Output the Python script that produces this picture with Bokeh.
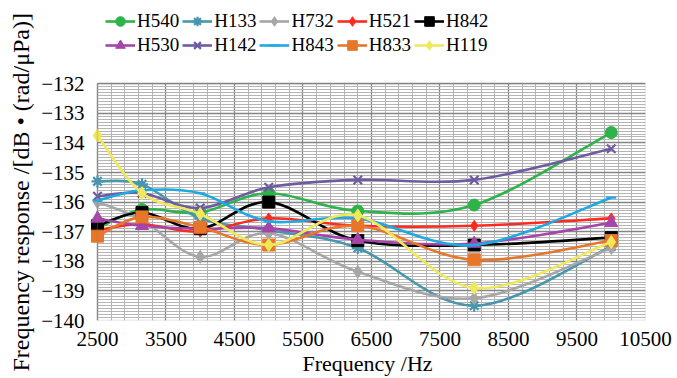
import numpy as np
from bokeh.plotting import figure
from bokeh.models import FixedTicker, Legend, LegendItem, Range1d, BoxAnnotation, Title
from bokeh.embed import file_html
from bokeh.resources import INLINE

# ---- data ----
freq = [2500, 3150, 4000, 5000, 6300, 8000, 10000]
H540 = [-136.90, -136.25, -136.35, -135.70, -136.30, -136.10, -133.65]
H133 = [-135.30, -135.40, -136.55, -136.95, -137.55, -139.50, -137.50]
H732 = [-136.00, -136.60, -137.85, -137.05, -138.35, -139.25, -137.55]
H521 = [-136.95, -136.75, -137.00, -136.55, -136.80, -136.80, -136.55]
H842 = [-136.80, -136.35, -136.90, -136.00, -137.30, -137.45, -137.20]
H530 = [-136.55, -136.80, -136.90, -136.88, -137.27, -137.40, -136.70]
H142 = [-135.80, -135.70, -136.20, -135.50, -135.25, -135.25, -134.20]
H843 = [-135.95, -135.60, -135.70, -136.65, -136.55, -137.45, -135.85]
H833 = [-137.15, -136.50, -136.85, -137.45, -136.80, -137.95, -137.30]
H119 = [-133.75, -135.70, -136.40, -137.45, -136.45, -138.90, -137.35]

names = ["H540", "H133", "H732", "H521", "H842", "H530", "H142", "H843", "H833", "H119"]
values = [H540, H133, H732, H521, H842, H530, H142, H843, H833, H119]
colors = ["#2db34a", "#4896ad", "#a6a6a6", "#ff2a1f", "#000000",
          "#a545a8", "#6f5b9f", "#1ea9e1", "#e8762a", "#efe85a"]
markers = ["circle", "asterisk", "diamond", "diamond", "square",
           "triangle", "x", "dash", "square", "diamond"]
msizes = [12, 12, 13, 11, 12, 13, 12, 10, 12, 13]

x_ticks = list(range(2500, 10501, 1000))
x_minor = list(range(2500, 10501, 200))
y_ticks = list(range(-140, -131))
y_minor = [round(-140 + 0.1 * i, 1) for i in range(81)]

FONT = "Liberation Serif"

# The frame is a little larger than the -140..-132 / 2500..10500 data box,
# so that the legend (above) and the edge markers (left) are not clipped.
W, H = 677, 378
BOTTOM = 55
LEFT = 87
frame_h = H - BOTTOM
box_top_px = 84
box_left_px = 95
box_right_px = 645
y_end = -132 + box_top_px * 8.0 / (frame_h - box_top_px)
x_start = 2500 - (box_left_px - LEFT) * 8000.0 / (box_right_px - box_left_px)

p = figure(width=W, height=H, output_backend="svg", toolbar_location=None,
           x_range=Range1d(x_start, 10500), y_range=Range1d(-140, y_end),
           min_border_left=LEFT, min_border_right=W - box_right_px,
           min_border_top=0, min_border_bottom=BOTTOM)
p.background_fill_color = "white"
p.border_fill_color = "white"
p.outline_line_color = None

p.xaxis.ticker = FixedTicker(ticks=x_ticks, minor_ticks=x_minor)
p.yaxis.ticker = FixedTicker(ticks=y_ticks, minor_ticks=y_minor)
p.xaxis.bounds = (2500, 10500)
p.yaxis.bounds = (-140, -132)
p.yaxis.major_label_overrides = {v: "\u2212" + str(-v) for v in y_ticks}
for ax in (p.xaxis, p.yaxis):
    ax.axis_line_color = None
    ax.major_tick_line_color = None
    ax.minor_tick_line_color = None
    ax.major_label_text_font = FONT
    ax.major_label_text_font_size = "21px"
    ax.major_label_text_color = "black"
    ax.axis_label_text_font = FONT
    ax.axis_label_text_font_size = "22px"
    ax.axis_label_text_font_style = "normal"
    ax.axis_label_text_color = "black"
p.xaxis.major_label_standoff = 5
p.xaxis.axis_label_standoff = 2
p.yaxis.major_label_standoff = -1
p.xaxis.axis_label = "Frequency /Hz"

p.add_layout(Title(text="Frequency response /[dB \u2022 (rad/\u03bcPa)]",
                   align="left", offset=-51, standoff=10,
                   text_font=FONT, text_font_size="24px",
                   text_font_style="normal", text_color="black"), "left")

for g in (p.xgrid, p.ygrid):
    g.grid_line_color = "#858585"
    g.grid_line_width = 1.3
    g.minor_grid_line_color = "#b5b5b5"
    g.minor_grid_line_width = 1
p.xgrid.bounds = (2500, 10500)
p.xgrid.cross_bounds = (-140, -132)
p.ygrid.bounds = (-140, -132)
p.ygrid.cross_bounds = (2500, 10500)

p.add_layout(BoxAnnotation(left=2500, right=10500, bottom=-140, top=-132,
                           fill_color=None, line_color="#858585",
                           line_width=1.5))

xs = np.array(freq, dtype=float)
items = []
for name, vals, col, mk, ms in zip(names, values, colors, markers, msizes):
    ys = np.array(vals, dtype=float)
    px = np.concatenate([[xs[0]], xs, [xs[-1]]])
    py = np.concatenate([[ys[0]], ys, [ys[-1]]])
    n = len(xs)
    x0 = px[1:n]; y0 = py[1:n]
    x1 = px[2:n + 1]; y1 = py[2:n + 1]
    cx0 = px[1:n] + (px[2:n + 1] - px[0:n - 1]) / 6.0
    cy0 = py[1:n] + (py[2:n + 1] - py[0:n - 1]) / 6.0
    cx1 = px[2:n + 1] - (px[3:n + 2] - px[1:n]) / 6.0
    cy1 = py[2:n + 1] - (py[3:n + 2] - py[1:n]) / 6.0
    bz = p.bezier(x0=x0, y0=y0, x1=x1, y1=y1, cx0=cx0, cy0=cy0, cx1=cx1,
                  cy1=cy1, line_color=col, line_width=2.6)
    lw = 2.2 if mk in ("asterisk", "x", "dash") else 1
    sc = p.scatter(x=freq, y=vals, marker=mk, size=ms, fill_color=col,
                   line_color=col, line_width=lw)
    items.append(LegendItem(label=name, renderers=[bz, sc], index=0))

for row, top in ((items[:5], 12), (items[5:], 36)):
    lg = Legend(items=row, orientation="horizontal",
                location=(box_left_px - LEFT + 8, frame_h - top - 24),
                glyph_width=30, glyph_height=24, label_standoff=2, spacing=3,
                padding=0, margin=0, border_line_color=None,
                background_fill_alpha=0, label_text_font=FONT,
                label_text_font_size="19px", label_text_color="black",
                label_height=24)
    p.add_layout(lg, "center")

open("out.html", "w").write(file_html(p, INLINE))
